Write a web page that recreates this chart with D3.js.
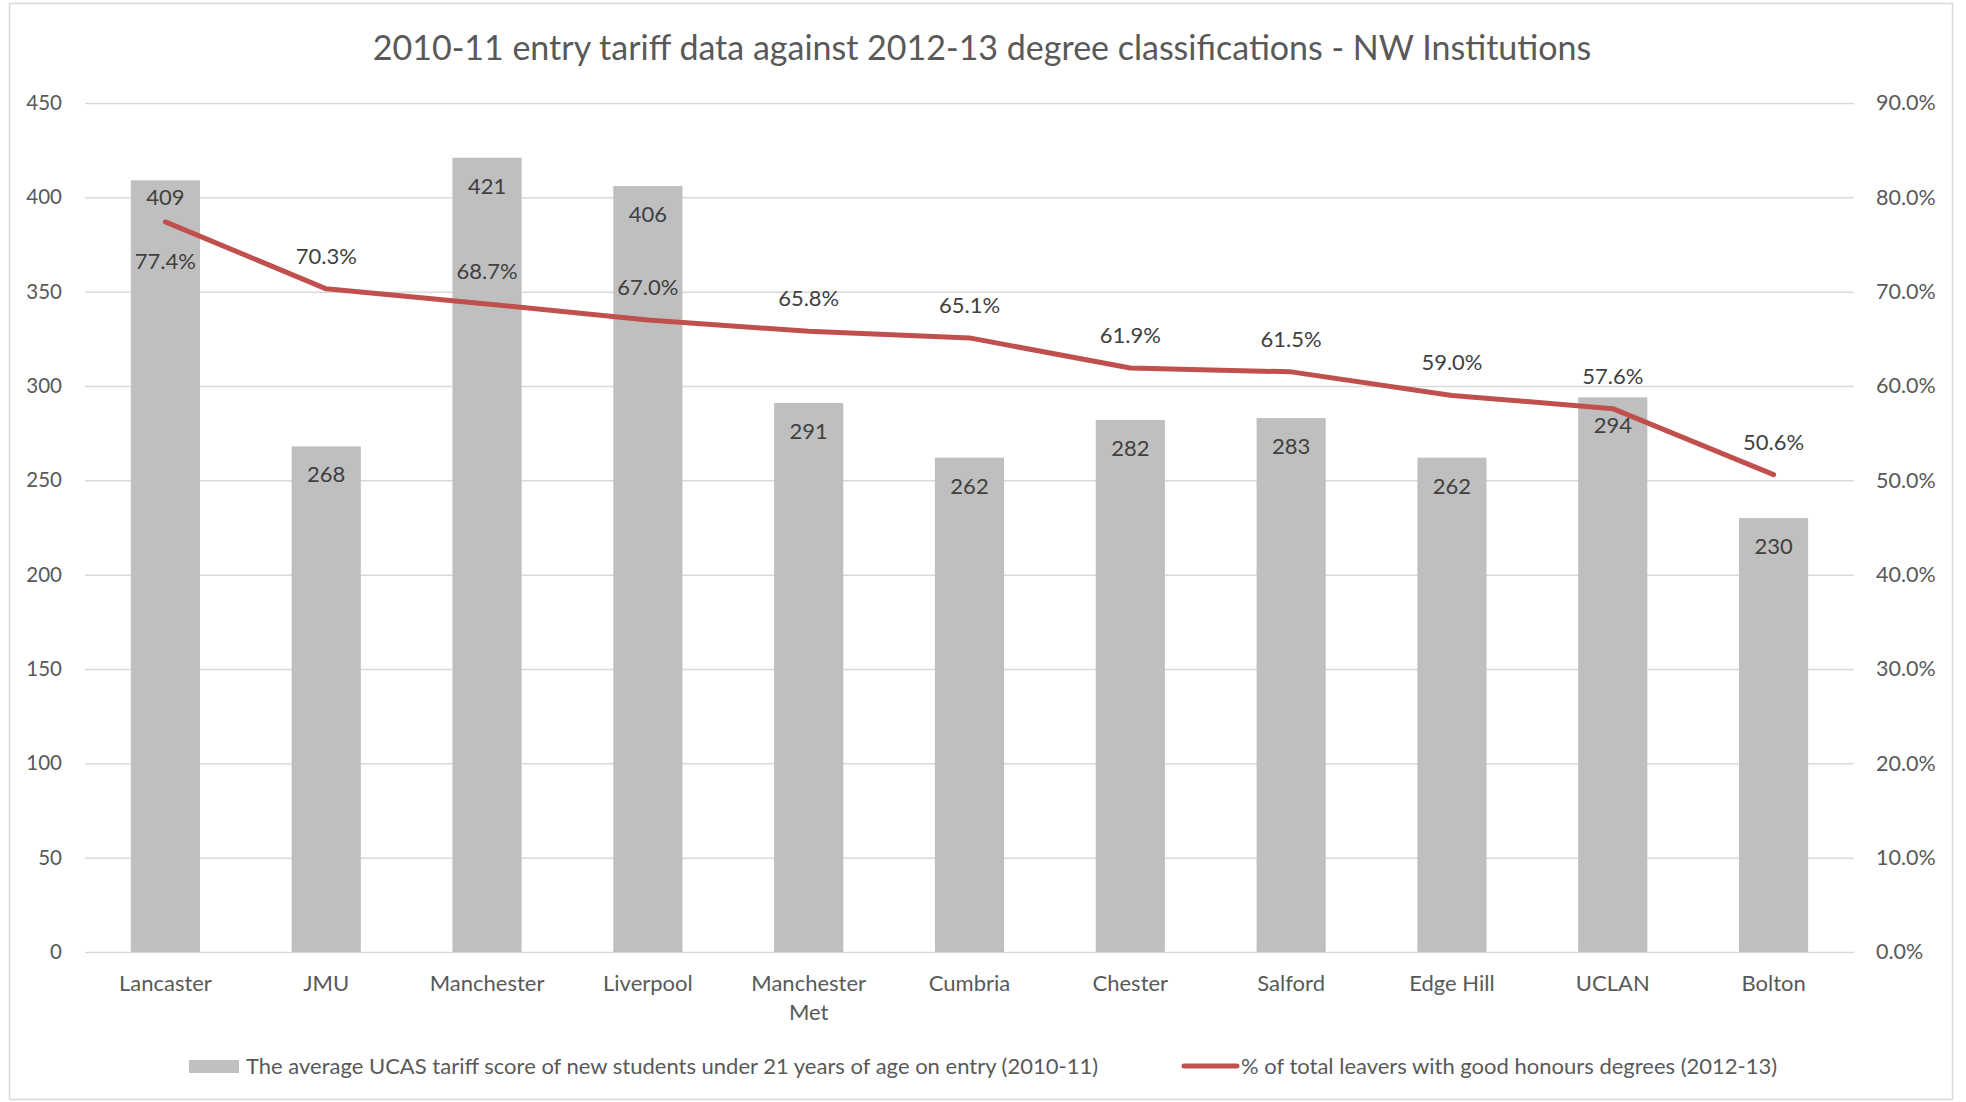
<!DOCTYPE html>
<html>
<head>
<meta charset="utf-8">
<script src="https://cdn.jsdelivr.net/npm/d3@7"></script>
<style>
body{margin:0;background:#fff;}
text{font-family:Lato, "Open Sans", sans-serif;}
</style>
</head>
<body>
<div id="chart"></div>
<script>
// data
var institutions=["Lancaster","JMU","Manchester","Liverpool","Manchester Met","Cumbria","Chester","Salford","Edge Hill","UCLAN","Bolton"];
var tariff=[409,268,421,406,291,262,282,283,262,294,230];
var goodHonours=[0.774,0.703,0.687,0.670,0.658,0.651,0.619,0.615,0.590,0.576,0.506];
var leftTicks=[0,50,100,150,200,250,300,350,400,450];
var rightTicks=[0,0.1,0.2,0.3,0.4,0.5,0.6,0.7,0.8,0.9];
var title="2010-11 entry tariff data against 2012-13 degree classifications - NW Institutions";
var barName="The average UCAS tariff score of new students under 21 years of age on entry (2010-11)";
var lineName="% of total leavers with good honours degrees (2012-13)";

var W=1966,H=1102;
var svg=d3.select('#chart').append('svg').attr('width',W).attr('height',H);

// outer border
svg.append('rect').attr('x',9.5).attr('y',3.5).attr('width',1943).attr('height',1096)
	.attr('fill','#fff').attr('stroke','#d9d9d9').attr('stroke-width',1.5);

var x=d3.scaleBand().domain(institutions).range([85,1854]).paddingInner(0.57).paddingOuter(0.285);
var y=d3.scaleLinear().domain([0,450]).range([952,103]);
var y2=d3.scaleLinear().domain([0,0.9]).range([952,103]);

// title
svg.append('text').attr('x',982).attr('y',60).attr('text-anchor','middle')
	.attr('font-size',34).attr('fill','#595959').text(title);

// gridlines
svg.append('g').selectAll('line').data(leftTicks).enter().append('line')
	.attr('x1',85).attr('x2',1854)
	.attr('y1',function(d){return y(d)+0.5;}).attr('y2',function(d){return y(d)+0.5;})
	.attr('stroke','#d9d9d9').attr('stroke-width',1.5);

// left axis
var yAxis=svg.append('g').attr('transform','translate(70,0)')
	.call(d3.axisLeft(y).tickValues(leftTicks).tickSize(0).tickPadding(8));
yAxis.select('.domain').remove();
yAxis.selectAll('text').attr('font-size',20.5).attr('fill','#595959').style('font-family','Lato');

// right axis
var y2Axis=svg.append('g').attr('transform','translate(1868,0)')
	.call(d3.axisRight(y2).tickValues(rightTicks).tickFormat(d3.format('.1%')).tickSize(0).tickPadding(8));
y2Axis.select('.domain').remove();
y2Axis.selectAll('text').attr('font-size',21.5).attr('fill','#595959').style('font-family','Lato');

// bars
svg.append('g').selectAll('rect').data(tariff).enter().append('rect')
	.attr('x',function(d,i){return x(institutions[i]);})
	.attr('y',function(d){return y(d);})
	.attr('width',x.bandwidth())
	.attr('height',function(d){return y(0)-y(d);})
	.attr('fill','#bfbfbf');

// x axis
var xAxis=svg.append('g').attr('transform','translate(0,952)')
	.call(d3.axisBottom(x).tickSize(0).tickPadding(0));
xAxis.select('.domain').remove();
xAxis.selectAll('text').remove();
xAxis.selectAll('.tick').each(function(d){
	var t=d3.select(this).append('text').attr('text-anchor','middle').attr('font-size',22).attr('fill','#595959');
	var words=d=="Manchester Met"?["Manchester","Met"]:[d];
	words.forEach(function(w,k){
		t.append('tspan').attr('x',0).attr('y',39+k*29).text(w);
	});
});

// bar labels, inside end (Lancaster's sits a little higher, clear of the line)
svg.append('g').selectAll('text').data(tariff).enter().append('text')
	.attr('x',function(d,i){return x(institutions[i])+x.bandwidth()/2;})
	.attr('y',function(d,i){return y(d)+(i==0?25:36);})
	.attr('text-anchor','middle').attr('font-size',22).attr('fill','#404040')
	.text(function(d){return d;});

// line
var cx=function(i){return x(institutions[i])+x.bandwidth()/2;};
var line=d3.line().x(function(d,i){return cx(i);}).y(function(d){return y2(d);});
svg.append('path').datum(goodHonours).attr('d',line)
	.attr('fill','none').attr('stroke','#c0504d').attr('stroke-width',5)
	.attr('stroke-linejoin','round').attr('stroke-linecap','round');

// line labels (first one sits below its point to clear the bar label)
svg.append('g').selectAll('text').data(goodHonours).enter().append('text')
	.attr('x',function(d,i){return cx(i);})
	.attr('y',function(d,i){return i==0?y2(d)+47:y2(d)-25;})
	.attr('text-anchor','middle').attr('font-size',22).attr('fill','#404040')
	.text(function(d){return d3.format('.1%')(d);});

// legend
var lg=svg.append('g');
lg.append('rect').attr('x',189).attr('y',1060).attr('width',50).attr('height',13).attr('fill','#bfbfbf');
lg.append('text').attr('x',246).attr('y',1074).attr('font-size',22).attr('fill','#595959').text(barName);
lg.append('line').attr('x1',1184).attr('x2',1237).attr('y1',1066).attr('y2',1066)
	.attr('stroke','#c0504d').attr('stroke-width',5).attr('stroke-linecap','round');
lg.append('text').attr('x',1241).attr('y',1074).attr('font-size',22).attr('fill','#595959').text(lineName);
</script>
</body>
</html>
